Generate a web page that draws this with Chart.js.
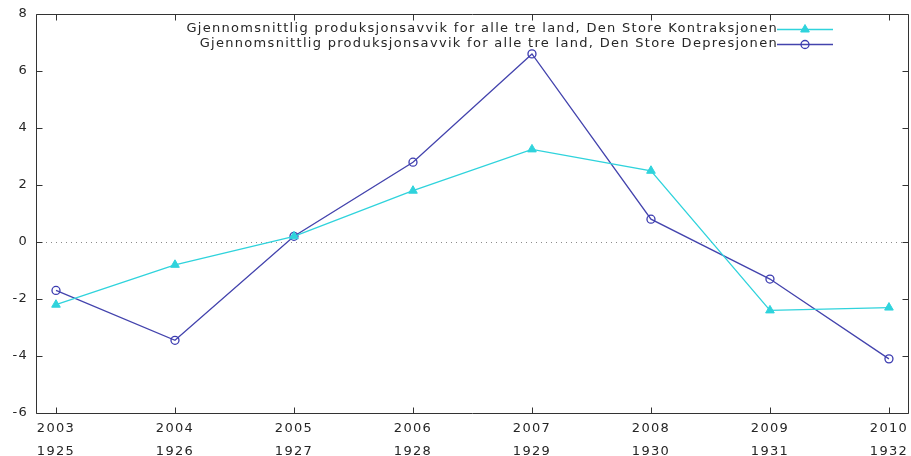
<!DOCTYPE html>
<html>
<head>
<meta charset="utf-8">
<script src="https://cdn.jsdelivr.net/npm/chart.js@4/dist/chart.umd.min.js"></script>
<style>
  html, body { margin: 0; padding: 0; background: #ffffff; }
  #wrap { width: 911px; height: 456px; }
</style>
</head>
<body>
<div id="wrap"><canvas id="chart" width="911" height="456"></canvas></div>
<script>
// Years on the x axis: upper row is the recent crisis, lower row the 1920s/30s
const years = [2003, 2004, 2005, 2006, 2007, 2008, 2009, 2010];
const yearsAlt = [1925, 1926, 1927, 1928, 1929, 1930, 1931, 1932];

// Average output gap for the three countries (percent)
const kontraksjonen = [-2.2, -0.8, 0.2, 1.8, 3.25, 2.5, -2.4, -2.3];
const depresjonen = [-1.7, -3.45, 0.2, 2.8, 6.6, 0.8, -1.3, -4.1];

const yTicks = [-6, -4, -2, 0, 2, 4, 6, 8];

const seriesNames = [
  'Gjennomsnittlig produksjonsavvik for alle tre land, Den Store Kontraksjonen',
  'Gjennomsnittlig produksjonsavvik for alle tre land, Den Store Depresjonen'
];

const FONT = '"DejaVu Sans", Verdana, sans-serif';
const FONT_SIZE = 13;
const SPACING = '1.3px';
const TEXT = '#262626';
const FRAME = '#333333';

function toPoints(values) {
  return years.map((yr, i) => ({ x: yr, y: values[i] }));
}

// Wide, airy lettering for every text on the canvas
const spacingPlugin = {
  id: 'spacing',
  beforeLayout(chart) { chart.ctx.letterSpacing = SPACING; },
  beforeDraw(chart) { chart.ctx.letterSpacing = SPACING; }
};

// Zero line, box border and inward tick marks on all four sides
const framePlugin = {
  id: 'frame',
  beforeDatasetsDraw(chart) {
    const { ctx, chartArea: a, scales } = chart;
    const y0 = Math.round(scales.y.getPixelForValue(0)) + 0.5;
    ctx.save();
    ctx.strokeStyle = '#8a8a8a';
    ctx.lineWidth = 1;
    ctx.setLineDash([1, 4]);
    ctx.beginPath();
    ctx.moveTo(a.left, y0);
    ctx.lineTo(a.right, y0);
    ctx.stroke();
    ctx.restore();
  },
  afterDraw(chart) {
    const { ctx, chartArea: a, scales } = chart;
    const L = Math.round(a.left) + 0.5, R = Math.round(a.right) + 0.5;
    const T = Math.round(a.top) + 0.5, B = Math.round(a.bottom) + 0.5;
    const tl = 6;
    ctx.save();
    ctx.strokeStyle = FRAME;
    ctx.lineWidth = 1;
    ctx.beginPath();
    ctx.rect(L, T, R - L, B - T);
    scales.y.ticks.forEach(t => {
      const py = Math.round(scales.y.getPixelForValue(t.value)) + 0.5;
      ctx.moveTo(L, py); ctx.lineTo(L + tl, py);
      ctx.moveTo(R, py); ctx.lineTo(R - tl, py);
    });
    scales.x.ticks.forEach(t => {
      const px = Math.round(scales.x.getPixelForValue(t.value)) + 0.5;
      ctx.moveTo(px, B); ctx.lineTo(px, B - tl);
      ctx.moveTo(px, T); ctx.lineTo(px, T + tl);
    });
    ctx.stroke();
    ctx.restore();
  }
};

// Key in the upper right corner: text right-aligned, sample line after it
const keyPlugin = {
  id: 'key',
  afterDraw(chart) {
    const { ctx, chartArea: a } = chart;
    const sampleEnd = a.right - 75;
    const sampleStart = sampleEnd - 56;
    const textRight = sampleStart + 1;
    ctx.save();
    ctx.font = FONT_SIZE + 'px ' + FONT;
    ctx.letterSpacing = SPACING;
    ctx.textAlign = 'right';
    ctx.textBaseline = 'middle';
    chart.data.datasets.forEach((ds, i) => {
      const y = a.top + 15 + i * 15;
      ctx.fillStyle = TEXT;
      ctx.fillText(ds.label, textRight, y);
      ctx.strokeStyle = ds.borderColor;
      ctx.lineWidth = ds.borderWidth;
      ctx.beginPath();
      ctx.moveTo(sampleStart, Math.round(y) + 0.5);
      ctx.lineTo(sampleEnd, Math.round(y) + 0.5);
      ctx.stroke();
      ctx.fillStyle = ds.pointBackgroundColor;
      ctx.strokeStyle = ds.pointBorderColor;
      ctx.lineWidth = ds.pointBorderWidth;
      Chart.helpers.drawPoint(ctx, {
        pointStyle: ds.pointStyle, radius: ds.pointRadius, rotation: 0, borderWidth: ds.pointBorderWidth
      }, (sampleStart + sampleEnd) / 2, Math.round(y) + 0.5);
    });
    ctx.restore();
  }
};

new Chart(document.getElementById('chart'), {
  type: 'line',
  data: {
    datasets: [
      {
        label: seriesNames[0],
        data: toPoints(kontraksjonen),
        borderColor: '#2fd3dc',
        borderWidth: 1.3,
        pointStyle: 'triangle',
        pointRadius: 5,
        pointHoverRadius: 5,
        pointBackgroundColor: '#2fd3dc',
        pointBorderColor: '#2fd3dc',
        pointBorderWidth: 1,
        tension: 0,
        fill: false
      },
      {
        label: seriesNames[1],
        data: toPoints(depresjonen),
        borderColor: '#4343ad',
        borderWidth: 1.3,
        pointStyle: 'circle',
        pointRadius: 4,
        pointHoverRadius: 4,
        pointBackgroundColor: 'rgba(0,0,0,0)',
        pointBorderColor: '#3b3bb0',
        pointBorderWidth: 1.3,
        tension: 0,
        fill: false
      }
    ]
  },
  options: {
    responsive: false,
    animation: false,
    devicePixelRatio: 1,
    layout: { autoPadding: false, padding: { top: 14, right: 3, left: 0, bottom: 0 } },
    plugins: {
      legend: { display: false },
      tooltip: { enabled: false }
    },
    scales: {
      x: {
        type: 'linear',
        min: 2002.832,
        max: 2010.16,
        afterBuildTicks(scale) {
          scale.ticks = years.map(v => ({ value: v }));
        },
        afterFit(scale) {
          scale.height = 43;
          scale.paddingLeft = 0;
          scale.paddingRight = 0;
        },
        grid: { display: false, drawTicks: false },
        border: { display: false },
        ticks: {
          padding: 5,
          color: TEXT,
          font: { family: FONT, size: FONT_SIZE, lineHeight: 1.7 },
          maxRotation: 0,
          autoSkip: false,
          callback(value) {
            const i = years.indexOf(value);
            return i < 0 ? '' : [String(years[i]), String(yearsAlt[i])];
          }
        }
      },
      y: {
        min: -6,
        max: 8,
        afterBuildTicks(scale) {
          scale.ticks = yTicks.map(v => ({ value: v }));
        },
        afterFit(scale) {
          scale.width = 36;
          scale.paddingTop = 0;
          scale.paddingBottom = 0;
        },
        grid: { display: false, drawTicks: false },
        border: { display: false },
        ticks: {
          padding: 8,
          color: TEXT,
          font: { family: FONT, size: FONT_SIZE }
        }
      }
    }
  },
  plugins: [spacingPlugin, framePlugin, keyPlugin]
});
</script>
</body>
</html>
